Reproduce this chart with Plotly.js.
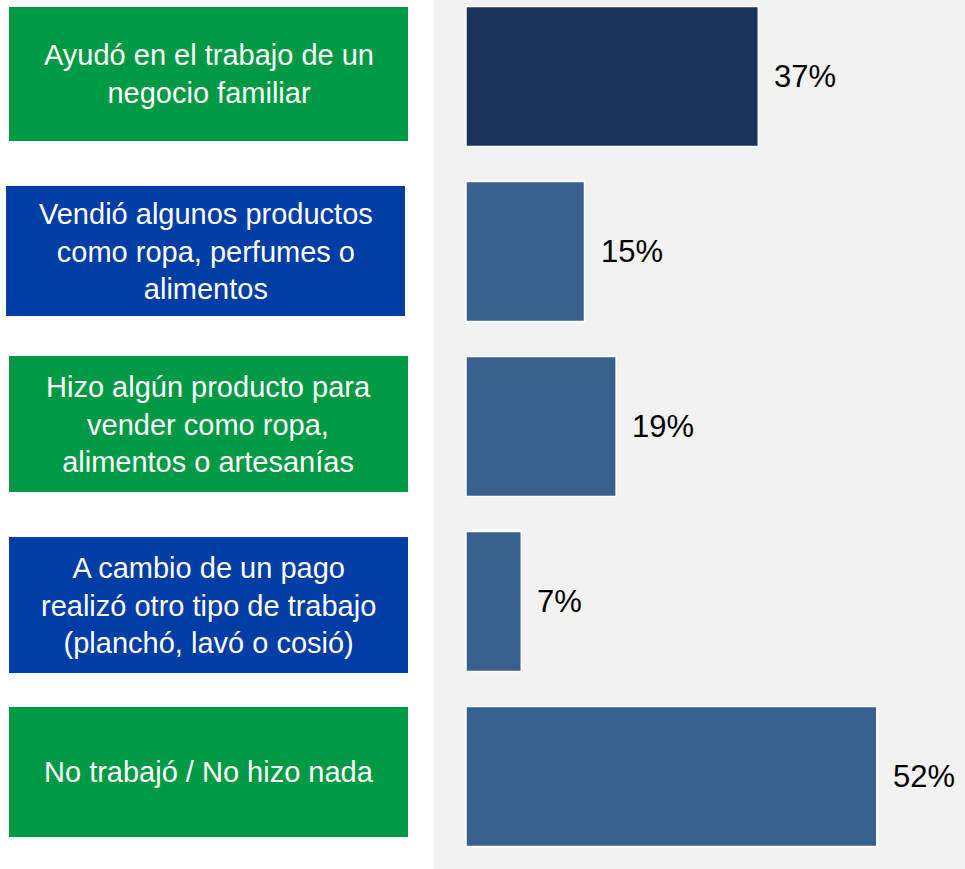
<!DOCTYPE html>
<html>
<head>
<meta charset="utf-8">
<script src="https://cdn.plot.ly/plotly-3.0.1.min.js"></script>
<style>
  html, body { margin: 0; padding: 0; background: #ffffff; }
  #chart { width: 965px; height: 869px; }
</style>
</head>
<body>
<div id="chart"></div>
<script>
// ---- Data ----
const categories = [
  "Ayudó en el trabajo de un<br>negocio familiar",
  "Vendió algunos productos<br>como ropa, perfumes o<br>alimentos",
  "Hizo algún producto para<br>vender como ropa,<br>alimentos o artesanías",
  "A cambio de un pago<br>realizó otro tipo de trabajo<br>(planchó, lavó o cosió)",
  "No trabajó / No hizo nada"
];
const values = [37, 15, 19, 7, 52];
const valueLabels = ["37%", "15%", "19%", "7%", "52%"];

// ---- Styles ----
const barColors = ["#1b365d", "#37608f", "#37608f", "#37608f", "#37608f"];
const boxColors = ["#009a44", "#003da5", "#009a44", "#003da5", "#009a44"];
// label box geometry in page pixels [x0, x1, y0, y1]
const boxGeom = [
  [9, 408, 7, 141],
  [6, 405, 186, 316],
  [9, 408, 356, 492],
  [9, 408, 537, 673],
  [9, 408, 707, 837]
];

const W = 965, H = 869;
const FONT = "Liberation Sans, Arial, sans-serif";

const trace = {
  type: "bar",
  orientation: "h",
  x: values,
  y: categories,
  marker: { color: barColors, line: { color: "#ffffff", width: 1.5 } },
  hoverinfo: "skip",
  showlegend: false
};

const shapes = boxGeom.map((g, i) => ({
  type: "rect", xref: "paper", yref: "paper",
  x0: g[0] / W, x1: g[1] / W,
  y0: 1 - g[3] / H, y1: 1 - g[2] / H,
  fillcolor: boxColors[i], line: { width: 0 }, layer: "above"
}));

const annotations = [];
boxGeom.forEach((g, i) => {
  annotations.push({
    xref: "paper", yref: "paper",
    x: (g[0] + g[1]) / 2 / W, y: 1 - (g[2] + g[3]) / 2 / H,
    xanchor: "center", yanchor: "middle",
    text: categories[i], showarrow: false, align: "center",
    font: { family: FONT, size: 29, color: "#ffffff" }
  });
});
values.forEach((v, i) => {
  annotations.push({
    xref: "x", yref: "y",
    x: v, y: categories[i],
    xanchor: "left", yanchor: "middle", xshift: 14,
    text: valueLabels[i], showarrow: false,
    font: { family: FONT, size: 31, color: "#000000" }
  });
});

const layout = {
  width: W, height: H,
  margin: { l: 0, r: 0, t: 0, b: 0, pad: 0 },
  paper_bgcolor: "#ffffff",
  plot_bgcolor: "#f2f2f2",
  bargap: 0.2,
  xaxis: {
    domain: [434 / W, 1],
    range: [-4.05, 63.16],
    showgrid: false, zeroline: false, showticklabels: false, showline: false, ticks: ""
  },
  yaxis: {
    type: "category",
    range: [4.529, -0.437],
    showgrid: false, zeroline: false, showticklabels: false, showline: false, ticks: ""
  },
  shapes: shapes,
  annotations: annotations,
  showlegend: false
};

Plotly.newPlot("chart", [trace], layout, { displayModeBar: false, staticPlot: true });
</script>
</body>
</html>
